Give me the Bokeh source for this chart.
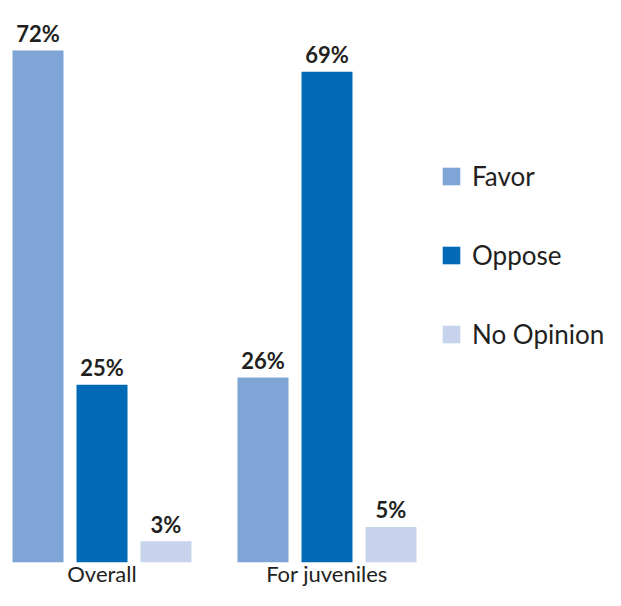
from bokeh.plotting import figure
from bokeh.models import Range1d, ColumnDataSource, Legend, LegendItem, FixedTicker
from bokeh.embed import file_html
from bokeh.resources import INLINE
from bokeh.core.properties import value

categories = ["Overall", "For juveniles"]
series = ["Favor", "Oppose", "No Opinion"]
favor = [72, 26]
oppose = [25, 69]
no_opinion = [3, 5]
values = {"Favor": favor, "Oppose": oppose, "No Opinion": no_opinion}
colors = {"Favor": "#7FA4D6", "Oppose": "#006AB7", "No Opinion": "#C7D3EC"}

TEXT = "#231F20"
FONT = "Lato"

W, H = 605, 590
x0 = -101.5 / 225
p = figure(width=W, height=H, output_backend="svg", toolbar_location=None,
           x_range=Range1d(x0, x0 + W / 225),
           y_range=Range1d(0, 72 * 562 / 512),
           min_border_left=0, min_border_right=0, min_border_top=0,
           min_border_bottom=28)
p.outline_line_color = None
p.grid.visible = False
p.yaxis.visible = False

offsets = [-64 / 225, 0, 64 / 225]
bar_w = 51 / 225
items = []
for s, off in zip(series, offsets):
    xs = [i + off for i in range(len(categories))]
    src = ColumnDataSource(dict(x=xs, top=values[s],
                                label=[f"{v}%" for v in values[s]]))
    r = p.vbar(x="x", top="top", width=bar_w, bottom=0, source=src,
               fill_color=colors[s], line_color=None)
    p.text(x="x", y="top", text="label", source=src, text_align="center",
           text_baseline="alphabetic", y_offset=-17, text_font=value(FONT),
           text_font_style="bold", text_font_size="22px", text_color=TEXT)
    items.append(LegendItem(label=s, renderers=[r]))

legend = Legend(items=items, location=(440, 212), orientation="vertical",
                glyph_width=22, glyph_height=22, label_standoff=10,
                spacing=47, padding=0, margin=0,
                label_text_font=FONT, label_text_font_size="26px",
                label_text_color=TEXT, border_line_color=None,
                background_fill_alpha=0)
p.add_layout(legend, "center")

ax = p.xaxis[0]
ax.ticker = FixedTicker(ticks=list(range(len(categories))))
ax.major_label_overrides = {i: c for i, c in enumerate(categories)}
ax.axis_line_color = None
ax.major_tick_line_color = None
ax.minor_tick_line_color = None
ax.major_tick_out = 0
ax.major_tick_in = 0
ax.major_label_standoff = -3
ax.major_label_text_font = FONT
ax.major_label_text_font_size = "22px"
ax.major_label_text_color = TEXT

open("out.html", "w").write(file_html(p, INLINE))
